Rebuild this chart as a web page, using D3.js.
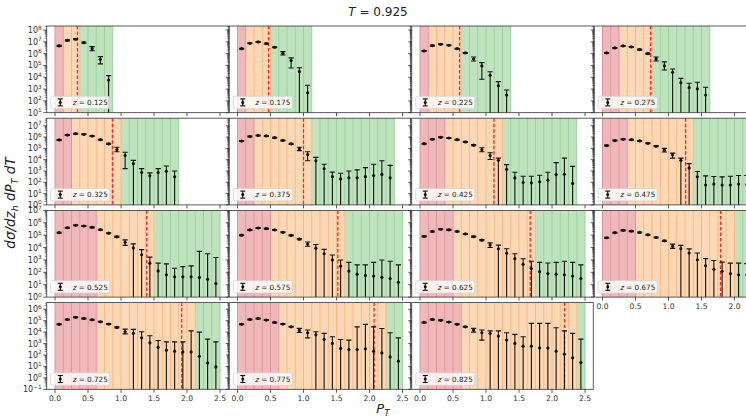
<!DOCTYPE html>
<html><head><meta charset="utf-8">
<script src="https://cdn.jsdelivr.net/npm/d3@7"></script>
<style>body{margin:0;background:#fff} svg{display:block;font-family:"DejaVu Sans",sans-serif}</style>
</head><body><svg id="c" width="746" height="419"></svg>
<script>
// ---------------- data ----------------
const titleValue = "0.925";
const zLabels = ["0.125","0.175","0.225","0.275","0.325","0.375","0.425","0.475","0.525","0.575","0.625","0.675","0.725","0.775","0.825"];
const dashX = [0.34,0.47,0.60,0.73,0.87,1.00,1.12,1.26,1.39,1.52,1.67,1.79,1.92,2.07,2.19];
const redBins    = [1,1,1,2,2,2,3,3,5,4,4,4,5,5,5];
const orangeBins = [2,3,4,4,6,7,7,8,7,9,10,12,12,13,14];
const greenBins  = [4,5,6,7,7,10,9,8,8,7,6,4,3,2,1];
const binWidth = 0.125;
const rowLogDomains = [[1,8.34],[0,7.67],[0,7.0],[-1,6.58]];
const xTicks = [0,0.5,1,1.5,2,2.5];
// each point: [log10 value, log10 upper end, log10 lower end (null = below axis)]
const pts_z0125 = [[6.65,6.70,6.60],[7.13,7.18,7.08],[7.22,7.27,7.17],[6.93,6.98,6.88],[6.42,6.59,6.25],[5.52,5.75,5.13],[3.77,4.14,null]];
const pts_z0175 = [[6.42,6.46,6.38],[6.88,6.92,6.84],[6.99,7.03,6.95],[6.85,6.9,6.8],[6.54,6.58,6.5],[6.03,6.17,5.88],[5.41,5.64,4.79],[4.47,4.81,null],[2.69,3.32,null]];
const pts_z0225 = [[6.23,6.27,6.19],[6.68,6.72,6.64],[6.79,6.83,6.75],[6.71,6.75,6.67],[6.42,6.46,6.38],[6.06,6.1,6.02],[5.55,5.72,5.38],[4.96,5.24,3.83],[4.17,4.47,null],[3.29,3.63,null],[2.5,2.92,null]];
const pts_z0275 = [[6.06,6.1,6.02],[6.48,6.52,6.44],[6.65,6.69,6.61],[6.57,6.61,6.53],[6.34,6.38,6.3],[6.0,6.04,5.96],[5.55,5.72,5.38],[4.96,5.3,4.62],[4.42,4.7,null],[3.54,3.91,null],[3.12,3.49,null],[3.01,3.58,null],[2.5,3.15,null]];
const pts_z0325 = [[5.75,5.79,5.71],[6.18,6.22,6.14],[6.3,6.34,6.26],[6.24,6.28,6.2],[6.09,6.13,6.05],[5.77,5.81,5.73],[5.4,5.46,5.34],[4.9,5.1,4.7],[4.37,4.66,3.21],[3.65,3.94,null],[2.86,3.21,null],[2.57,2.83,null],[2.86,3.21,null],[2.97,3.44,null],[2.48,3.0,null]];
const pts_z0375 = [[5.65,5.69,5.61],[6.05,6.09,6.01],[6.15,6.19,6.11],[6.1,6.14,6.06],[5.95,5.99,5.91],[5.7,5.74,5.66],[5.4,5.45,5.35],[4.95,5.1,4.8],[4.45,4.7,3.9],[3.9,4.2,null],[3.2,3.6,null],[2.5,2.9,null],[2.3,2.8,null],[2.4,3.0,null],[2.4,3.1,null],[2.5,3.3,null],[2.6,3.6,null],[2.7,3.9,null],[2.4,3.5,null]];
const pts_z0425 = [[5.42,5.46,5.38],[5.8,5.84,5.76],[5.98,6.02,5.94],[5.92,5.96,5.88],[5.77,5.81,5.73],[5.57,5.61,5.53],[5.28,5.33,5.23],[4.87,5.05,4.7],[4.37,4.61,4.02],[3.94,4.14,null],[3.15,3.56,null],[2.39,2.89,null],[1.98,2.54,null],[1.95,2.54,null],[2.04,2.62,null],[2.19,2.89,null],[2.68,3.74,null],[2.71,4.14,null],[1.9,3.41,null]];
const pts_z0475 = [[5.25,5.29,5.21],[5.69,5.73,5.65],[5.8,5.84,5.76],[5.77,5.81,5.73],[5.66,5.7,5.62],[5.45,5.49,5.41],[5.19,5.24,5.14],[4.84,5.0,4.68],[4.43,4.58,4.14],[3.94,4.14,null],[3.27,3.65,null],[2.48,2.95,null],[1.75,2.57,null],[1.84,2.51,null],[1.75,2.48,null],[1.75,2.54,null],[1.84,2.6,null],[1.8,2.6,null],[1.7,2.5,null]];
const pts_z0525 = [[5.2,5.24,5.16],[5.6,5.64,5.56],[5.8,5.84,5.76],[5.74,5.78,5.7],[5.63,5.67,5.59],[5.44,5.48,5.4],[5.16,5.2,5.12],[4.87,4.92,4.82],[4.43,4.62,4.18],[3.97,4.3,null],[3.42,3.83,null],[2.74,3.23,null],[2.11,2.74,null],[1.8,2.68,null],[1.64,2.33,null],[1.64,2.46,null],[1.64,2.52,null],[1.59,3.69,null],[1.45,3.5,null],[1.1,3.2,null]];
const pts_z0575 = [[5.0,5.04,4.96],[5.42,5.46,5.38],[5.58,5.62,5.54],[5.53,5.57,5.49],[5.42,5.46,5.38],[5.23,5.27,5.19],[4.98,5.02,4.94],[4.68,4.73,4.63],[4.28,4.45,4.1],[3.95,4.25,null],[3.5,3.85,null],[3.0,3.4,null],[2.5,3.0,null],[2.1,2.8,null],[1.85,2.6,null],[1.75,2.6,null],[1.7,2.8,null],[1.6,3.0,null],[1.5,2.9,null],[1.2,2.6,null]];
const pts_z0625 = [[4.9,4.94,4.86],[5.3,5.34,5.26],[5.48,5.52,5.44],[5.43,5.47,5.39],[5.3,5.34,5.26],[5.1,5.14,5.06],[4.88,4.92,4.84],[4.6,4.65,4.55],[4.2,4.38,4.0],[3.9,4.2,null],[3.55,3.9,null],[3.1,3.5,null],[2.65,3.1,null],[2.3,2.9,null],[2.05,2.8,null],[1.9,2.75,null],[1.85,2.8,null],[1.8,2.9,null],[1.7,2.8,null],[1.5,2.6,null]];
const pts_z0675 = [[4.79,4.83,4.75],[5.2,5.24,5.16],[5.39,5.43,5.35],[5.33,5.37,5.29],[5.22,5.26,5.18],[5.03,5.07,4.99],[4.81,4.85,4.77],[4.54,4.59,4.49],[4.1,4.28,3.93],[3.91,4.18,null],[3.56,3.89,null],[3.01,3.56,null],[2.54,3.11,null],[2.25,2.95,null],[2.08,2.82,null],[1.89,2.74,null],[1.8,2.74,null],[1.8,2.7,null],[1.7,2.6,null],[1.5,2.5,null]];
const pts_z0725 = [[4.68,4.72,4.64],[5.11,5.15,5.07],[5.29,5.33,5.25],[5.2,5.24,5.16],[5.08,5.12,5.04],[4.9,4.94,4.86],[4.7,4.74,4.66],[4.41,4.46,4.36],[4.03,4.26,3.85],[3.89,4.24,null],[3.5,4.03,null],[3.06,3.68,null],[2.66,3.27,null],[2.42,3.15,null],[2.33,3.15,null],[2.27,3.15,null],[2.27,4.11,null],[1.89,4.0,null],[1.31,3.39,null],[0.96,3.15,null]];
const pts_z0775 = [[4.68,4.72,4.64],[5.11,5.15,5.07],[5.2,5.24,5.16],[5.05,5.09,5.01],[4.85,4.89,4.81],[4.7,4.74,4.66],[4.46,4.5,4.42],[4.15,4.33,3.97],[3.94,4.18,3.5],[3.76,4.03,null],[3.36,3.89,null],[3.01,3.59,null],[2.57,3.36,null],[2.48,3.3,null],[2.48,4.46,null],[2.54,4.68,null],[2.33,4.46,null],[2.18,4.32,null],[1.83,3.94,null],[1.46,3.5,null]];
const pts_z0825 = [[4.85,4.89,4.81],[5.11,5.15,5.07],[5.03,5.07,4.99],[4.88,4.92,4.84],[4.68,4.72,4.64],[4.46,4.5,4.42],[4.18,4.33,4.0],[3.94,4.18,3.3],[3.89,4.11,null],[3.65,4.11,null],[3.3,3.94,null],[3.01,3.8,null],[2.77,3.59,null],[2.77,4.76,null],[2.62,4.76,null],[2.6,4.76,null],[2.33,4.38,null],[2.07,4.11,null],[1.75,3.89,null],[1.34,3.39,null]];
const panelPoints = [pts_z0125,pts_z0175,pts_z0225,pts_z0275,pts_z0325,pts_z0375,pts_z0425,pts_z0475,pts_z0525,pts_z0575,pts_z0625,pts_z0675,pts_z0725,pts_z0775,pts_z0825];

// ---------------- drawing ----------------
const svg = d3.select("#c");
const W = 746, H = 419;
const L0 = 46.75, colPitch = 182.5, pw = 181.5;
const T0 = 26, rowPitch = 92.2, ph = 86.7;
const bandFill = {red:"#efb9bb", orange:"#fdd8b6", green:"#c0e3bf"};
const bandEdge = {red:"#e4959a", orange:"#f9b97f", green:"#9dd29b"};
const defs = svg.append("defs");

panelPoints.forEach((pts, i) => {
  const r = Math.floor(i/4), c = i % 4;
  const left = L0 + c*colPitch, top = T0 + r*rowPitch;
  const x = d3.scaleLinear().domain([-0.125, 2.625]).range([left, left+pw]);
  const dom = rowLogDomains[r];
  const y = d3.scaleLog().domain([Math.pow(10,dom[0]), Math.pow(10,dom[1])]).range([top+ph, top]);
  const bottomY = top + ph;
  defs.append("clipPath").attr("id","cp"+i).append("rect")
    .attr("x",left).attr("y",top).attr("width",pw).attr("height",ph);
  const g = svg.append("g").attr("clip-path","url(#cp"+i+")");

  // bands
  const nb = redBins[i] + orangeBins[i] + greenBins[i];
  const bins = d3.range(nb).map(k => ({k, kind: k < redBins[i] ? "red" : (k < redBins[i]+orangeBins[i] ? "orange" : "green")}));
  g.selectAll("rect.band").data(bins).join("rect").attr("class","band")
    .attr("x", d => x(d.k*binWidth)).attr("y", top)
    .attr("width", d => x((d.k+1)*binWidth) - x(d.k*binWidth)).attr("height", ph)
    .attr("fill", d => bandFill[d.kind]);
  g.selectAll("line.edge").data(bins).join("line").attr("class","edge")
    .attr("x1", d => x((d.k+1)*binWidth)).attr("x2", d => x((d.k+1)*binWidth))
    .attr("y1", top).attr("y2", bottomY)
    .attr("stroke", d => bandEdge[d.kind]).attr("stroke-width", 1);
  g.append("line")
    .attr("x1", x(0)).attr("x2", x(0)).attr("y1", top).attr("y2", bottomY)
    .attr("stroke", bandEdge.red).attr("stroke-width", 1);

  // dashed line
  g.append("line").attr("x1", x(dashX[i])).attr("x2", x(dashX[i]))
    .attr("y1", top).attr("y2", bottomY)
    .attr("stroke", "#f22").attr("stroke-width", 1.3).attr("stroke-dasharray","3.5,2");

  // error bars
  const cx = k => x(binWidth*(k+0.5));
  const eb = g.selectAll("g.eb").data(pts.map((d,k)=>({d,k}))).join("g").attr("class","eb");
  eb.append("line")
    .attr("x1",e=>cx(e.k)).attr("x2",e=>cx(e.k))
    .attr("y1", e => y(Math.pow(10,e.d[1])))
    .attr("y2", e => e.d[2]===null ? bottomY+2 : y(Math.pow(10,e.d[2])))
    .attr("stroke","#111").attr("stroke-width",1.1);
  eb.append("line")
    .attr("x1",e=>cx(e.k)-2.6).attr("x2",e=>cx(e.k)+2.6)
    .attr("y1", e => y(Math.pow(10,e.d[1]))).attr("y2", e => y(Math.pow(10,e.d[1])))
    .attr("stroke","#111").attr("stroke-width",1.1);
  eb.filter(e => e.d[2]!==null).append("line")
    .attr("x1",e=>cx(e.k)-2.6).attr("x2",e=>cx(e.k)+2.6)
    .attr("y1", e => y(Math.pow(10,e.d[2]))).attr("y2", e => y(Math.pow(10,e.d[2])))
    .attr("stroke","#111").attr("stroke-width",1.1);
  eb.append("circle").attr("cx",e=>cx(e.k)).attr("cy", e => y(Math.pow(10,e.d[0])))
    .attr("r",1.6).attr("fill","#111");

  // legend
  const lg = svg.append("g");
  lg.append("rect").attr("x",left+4).attr("y",bottomY-16.5).attr("width",59).attr("height",12.5)
    .attr("rx",2).attr("fill","#fff").attr("fill-opacity",0.8).attr("stroke","#d0d0d0").attr("stroke-width",0.8);
  const sx = left+13.5, sy = bottomY-10.3;
  lg.append("line").attr("x1",sx).attr("x2",sx).attr("y1",sy-3.5).attr("y2",sy+3.5).attr("stroke","#111").attr("stroke-width",1.1);
  lg.append("line").attr("x1",sx-2.5).attr("x2",sx+2.5).attr("y1",sy-3.5).attr("y2",sy-3.5).attr("stroke","#111").attr("stroke-width",1.1);
  lg.append("line").attr("x1",sx-2.5).attr("x2",sx+2.5).attr("y1",sy+3.5).attr("y2",sy+3.5).attr("stroke","#111").attr("stroke-width",1.1);
  lg.append("circle").attr("cx",sx).attr("cy",sy).attr("r",1.5).attr("fill","#111");
  const lt = lg.append("text").attr("x",left+26).attr("y",bottomY-7.6).attr("font-size",7.2).attr("fill","#222");
  lt.append("tspan").attr("font-style","italic").text("z");
  lt.append("tspan").text(" = " + zLabels[i]);

  // frame
  svg.append("rect").attr("x",left).attr("y",top).attr("width",pw).attr("height",ph)
    .attr("fill","none").attr("stroke","#333").attr("stroke-width",0.8);

  // y ticks (log)
  const majors = d3.range(Math.ceil(dom[0]), Math.floor(dom[1]+1e-9)+1);
  const minors = [];
  d3.range(Math.floor(dom[0]), Math.ceil(dom[1])).forEach(d => {
    for (let m=2;m<=9;m++){ const lv = d + Math.log10(m); if (lv>dom[0] && lv<dom[1]) minors.push(Math.pow(10,lv)); }
  });
  svg.selectAll(null).data(minors).join("line")
    .attr("x1",left).attr("x2",left-2).attr("y1",d=>y(d)).attr("y2",d=>y(d))
    .attr("stroke","#333").attr("stroke-width",0.6);
  svg.selectAll(null).data(majors).join("line")
    .attr("x1",left).attr("x2",left-3.5).attr("y1",d=>y(Math.pow(10,d))).attr("y2",d=>y(Math.pow(10,d)))
    .attr("stroke","#333").attr("stroke-width",0.8);
  if (c === 0) {
    const tl = svg.selectAll(null).data(majors).join("text")
      .attr("x", left-5).attr("y", d => y(Math.pow(10,d)) + 3)
      .attr("text-anchor","end").attr("font-size",8).attr("fill","#333");
    tl.append("tspan").text("10");
    tl.append("tspan").attr("dy",-3.5).attr("font-size",5.8).text(d => d < 0 ? "\u2212" + Math.abs(d) : d);
  }

  // x ticks
  const visTicks = xTicks.filter(d => x(d) < W - 4);
  svg.selectAll(null).data(visTicks).join("line")
    .attr("x1",d=>x(d)).attr("x2",d=>x(d)).attr("y1",bottomY).attr("y2",bottomY+3.5)
    .attr("stroke","#333").attr("stroke-width",0.8);
  const isBottom = (r === 3) || (r === 2 && c === 3);
  if (isBottom) {
    svg.selectAll(null).data(visTicks).join("text")
      .attr("x",d=>x(d)).attr("y",bottomY+12).attr("text-anchor","middle")
      .attr("font-size",7.6).attr("fill","#333").text(d => d3.format(".1f")(d));
  }
});

// title
const tt = svg.append("text").attr("x",378).attr("y",16).attr("text-anchor","middle").attr("font-size",12).attr("fill","#222");
tt.append("tspan").attr("font-style","italic").text("T");
tt.append("tspan").text(" = " + titleValue);

// x label
const xl = svg.append("text").attr("x",383).attr("y",413).attr("text-anchor","middle").attr("font-size",13).attr("fill","#222").attr("font-style","italic");
xl.append("tspan").text("P");
xl.append("tspan").attr("dy",3).attr("font-size",9).text("T");

// y label
const yl = svg.append("text").attr("transform","translate(15,203) rotate(-90)").attr("text-anchor","middle")
  .attr("font-size",13.5).attr("fill","#222").attr("font-style","italic");
yl.append("tspan").text("d\u03C3/dz");
yl.append("tspan").attr("dy",3).attr("font-size",9.5).text("h");
yl.append("tspan").attr("dy",-3).text(" dP");
yl.append("tspan").attr("dy",3).attr("font-size",9.5).text("T");
yl.append("tspan").attr("dy",-3).text(" dT");
</script>
</body></html>
